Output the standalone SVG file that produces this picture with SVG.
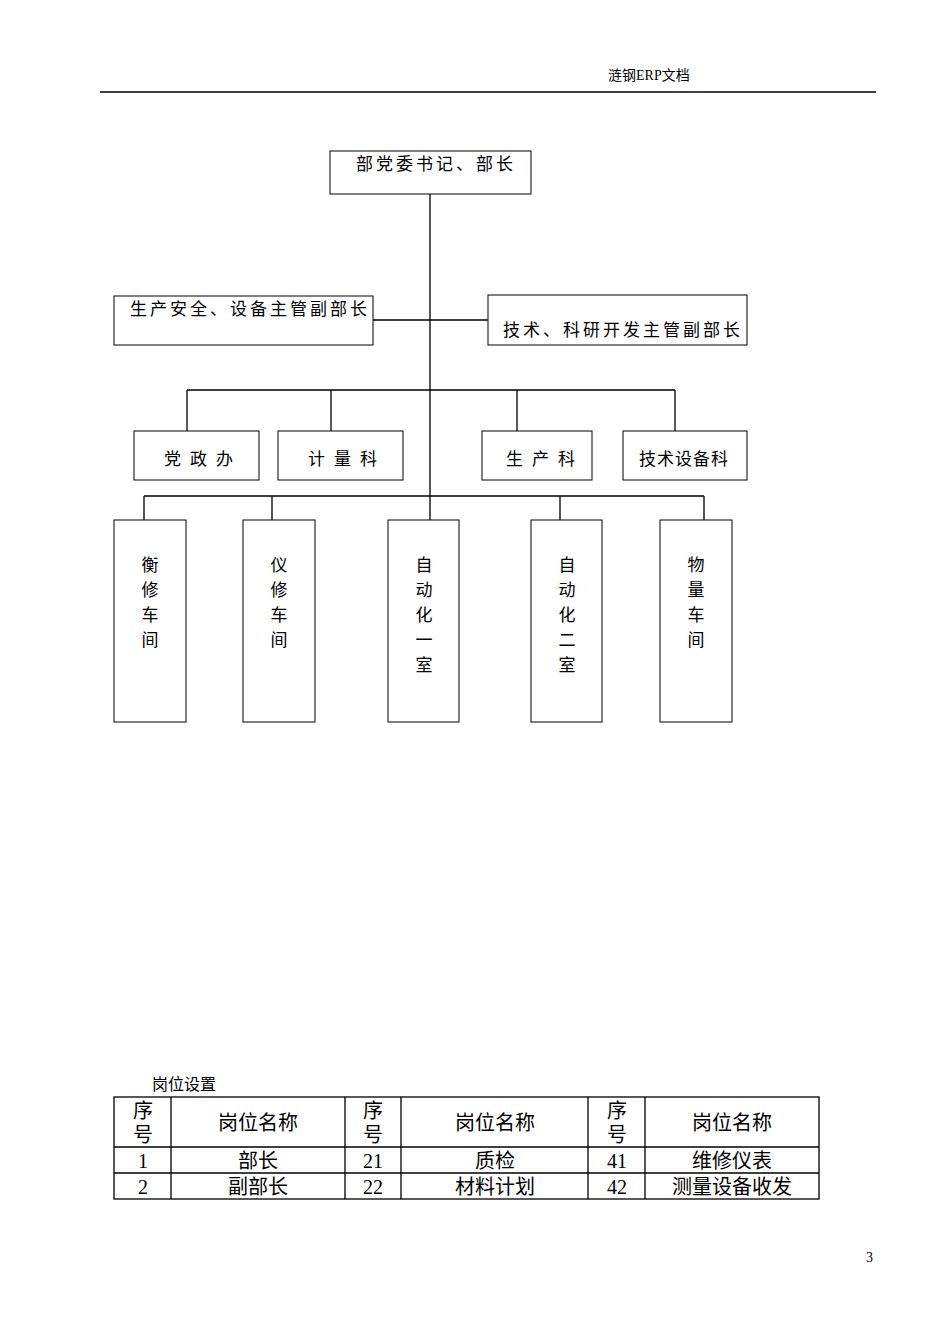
<svg xmlns="http://www.w3.org/2000/svg" width="950" height="1344" viewBox="0 0 950 1344">
<style>
.b{fill:#fff;stroke:#000;stroke-width:1}
.l{stroke:#000;stroke-width:1.3;fill:none}
text{font-family:"Liberation Serif","Noto Sans CJK SC",serif;fill:#000}
.t{font-size:17px;letter-spacing:3px}
.v{font-size:17px;text-anchor:middle}
.c{font-size:20px;text-anchor:middle}
</style>
<rect width="950" height="1344" fill="#fff"/>
<text x="608" y="80" font-size="14">涟钢ERP文档</text>
<line x1="100" y1="92" x2="876" y2="92" stroke="#000" stroke-width="1.3"/>
<g id="connectors">
<path class="l" d="M430 194V545M373 320H488M187 390H675M187 390V452M331 390V447M517 390V450M675 390V455M144 496H704M144 496V548M272 496V548M560 496V548M704 496V548"/>
</g>
<g id="n1"><rect class="b" x="330" y="151" width="201" height="43"/><text class="t" x="356" y="170">部党委书记、部长</text></g>
<g id="n2"><rect class="b" x="114" y="296" width="259" height="49"/><text class="t" x="130" y="315">生产安全、设备主管副部长</text></g>
<g id="n3"><rect class="b" x="488" y="295" width="259" height="50"/><text class="t" x="503" y="336">技术、科研开发主管副部长</text></g>
<g id="n4"><rect class="b" x="134" y="431" width="125" height="49"/><text class="t" x="164" y="465" style="letter-spacing:9px">党政办</text></g>
<g id="n5"><rect class="b" x="278" y="431" width="125" height="49"/><text class="t" x="308" y="465" style="letter-spacing:9px">计量科</text></g>
<g id="n6"><rect class="b" x="482" y="431" width="110" height="49"/><text class="t" x="506" y="465" style="letter-spacing:9px">生产科</text></g>
<g id="n7"><rect class="b" x="623" y="431" width="124" height="49"/><text class="t" x="639" y="465" style="letter-spacing:1px">技术设备科</text></g>
<g id="n8"><rect class="b" x="114" y="520" width="72" height="202"/><text class="v" x="150"><tspan x="150" y="571">衡</tspan><tspan x="150" y="596">修</tspan><tspan x="150" y="621">车</tspan><tspan x="150" y="646">间</tspan></text></g>
<g id="n9"><rect class="b" x="243" y="520" width="72" height="202"/><text class="v"><tspan x="279" y="571">仪</tspan><tspan x="279" y="596">修</tspan><tspan x="279" y="621">车</tspan><tspan x="279" y="646">间</tspan></text></g>
<g id="n10"><rect class="b" x="388" y="520" width="71" height="202"/><text class="v"><tspan x="424" y="571">自</tspan><tspan x="424" y="596">动</tspan><tspan x="424" y="621">化</tspan><tspan x="424" y="646">一</tspan><tspan x="424" y="671">室</tspan></text></g>
<g id="n11"><rect class="b" x="531" y="520" width="71" height="202"/><text class="v"><tspan x="567" y="571">自</tspan><tspan x="567" y="596">动</tspan><tspan x="567" y="621">化</tspan><tspan x="567" y="646">二</tspan><tspan x="567" y="671">室</tspan></text></g>
<g id="n12"><rect class="b" x="660" y="520" width="72" height="202"/><text class="v"><tspan x="696" y="571">物</tspan><tspan x="696" y="596">量</tspan><tspan x="696" y="621">车</tspan><tspan x="696" y="646">间</tspan></text></g>
<g id="table">
<text x="152" y="1090" font-size="16">岗位设置</text>
<rect x="114" y="1097" width="705" height="102" fill="none" stroke="#000" stroke-width="1.3"/>
<path class="l" d="M114 1147H819M114 1173H819M171 1097V1199M345 1097V1199M401 1097V1199M588 1097V1199M645 1097V1199"/>
<g class="c">
<text class="c" x="143" y="1118">序</text><text class="c" x="143" y="1142">号</text>
<text class="c" x="373" y="1118">序</text><text class="c" x="373" y="1142">号</text>
<text class="c" x="617" y="1118">序</text><text class="c" x="617" y="1142">号</text>
<text class="c" x="258" y="1130">岗位名称</text><text class="c" x="495" y="1130">岗位名称</text><text class="c" x="732" y="1130">岗位名称</text>
<text class="c" x="143" y="1168">1</text><text class="c" x="258" y="1168">部长</text><text class="c" x="373" y="1168">21</text><text class="c" x="495" y="1168">质检</text><text class="c" x="617" y="1168">41</text><text class="c" x="732" y="1168">维修仪表</text>
<text class="c" x="143" y="1194">2</text><text class="c" x="258" y="1194">副部长</text><text class="c" x="373" y="1194">22</text><text class="c" x="495" y="1194">材料计划</text><text class="c" x="617" y="1194">42</text><text class="c" x="732" y="1194">测量设备收发</text>
</g>
</g>
<text x="866" y="1262" font-size="14">3</text>
</svg>
